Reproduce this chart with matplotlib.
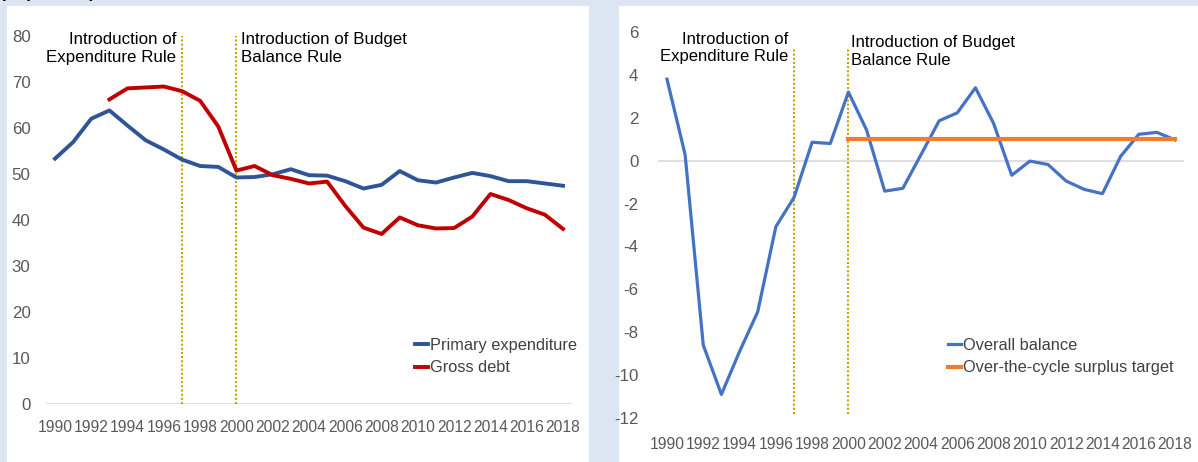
import numpy as np
import matplotlib
matplotlib.use("Agg")
import matplotlib.pyplot as plt
from matplotlib import font_manager
from matplotlib.patches import Rectangle

years = list(range(1990, 2019))
primary_exp = [53.3, 56.9, 62.0, 63.8, 60.5, 57.3, 55.3, 53.1, 51.7, 51.5,
               49.2, 49.3, 49.9, 51.0, 49.7, 49.6, 48.4, 46.8, 47.6, 50.6,
               48.6, 48.1, 49.2, 50.2, 49.5, 48.4, 48.4, 47.9, 47.4]
gross_debt = [np.nan, np.nan, np.nan, 66.2, 68.6, 68.8, 69.0, 68.0, 65.9, 60.3,
              50.7, 51.7, 49.7, 48.9, 47.9, 48.3, 43.0, 38.3, 36.9, 40.5,
              38.8, 38.1, 38.2, 40.7, 45.6, 44.3, 42.5, 41.1, 38.0]
overall_balance = [3.8, 0.28, -8.6, -10.9, -8.9, -7.05, -3.08, -1.72, 0.86, 0.8,
                   3.2, 1.43, -1.42, -1.29, 0.28, 1.86, 2.23, 3.4, 1.74, -0.68,
                   -0.02, -0.18, -0.95, -1.34, -1.54, 0.2, 1.23, 1.32, 0.97]
surplus_target = [np.nan] * 10 + [1.0] * 19
rule_years = [1997, 2000]
rule_labels = ["Introduction of\nExpenditure Rule", "Introduction of Budget\nBalance Rule"]

# font: narrow sans if there is one, else plain Liberation scaled down
names = {f.name for f in font_manager.fontManager.ttflist}
if "Liberation Sans Narrow" in names:
    fam, k = "Liberation Sans Narrow", 1.0
else:
    fam, k = "Liberation Sans", 0.84
plt.rcParams["font.family"] = [fam, "DejaVu Sans"]
plt.rcParams["axes.unicode_minus"] = False

W, H = 1198, 462
fig = plt.figure(figsize=(W / 100, H / 100), dpi=100, facecolor="#dce6f2")

def px(x0, y0, x1, y1):
    # pixel box (top-left origin) -> figure fraction rect
    return [x0 / W, 1 - y1 / H, (x1 - x0) / W, (y1 - y0) / H]

# white panels, behind the axes
for x0, x1 in [(7, 589), (619, 1198)]:
    r = px(x0, 6, x1, H)
    fig.patches.append(Rectangle((r[0], r[1]), r[2], r[3], transform=fig.transFigure,
                                 facecolor="white", edgecolor="none", zorder=-5))

# subtitle that sits mostly above the top edge, as in the source
fig.text(0.0, 1 + 2.5 / H, "(In percent)", fontsize=15 * k, fontweight="bold",
         va="baseline", ha="left", color="black", zorder=-4)

x = np.arange(len(years))
tick_pos = x[::2]
tick_lab = [str(y) for y in years[::2]]
grey = "#595959"
gold = "#c9a400"


def style(ax, ylim, yticks, xpad, ypad):
    ax.set_facecolor("none")
    for s in ax.spines.values():
        s.set_visible(False)
    ax.set_xlim(-0.5, len(years) - 0.5)
    ax.set_ylim(*ylim)
    ax.set_yticks(yticks)
    ax.set_xticks(tick_pos)
    ax.set_xticklabels(tick_lab)
    ax.tick_params(length=0, colors=grey)
    ax.tick_params(axis="x", pad=xpad, labelsize=13.4 * k)
    ax.tick_params(axis="y", pad=ypad, labelsize=14.5 * k)
    ax.axhline(0, color="#d9d9d9", lw=1.2, zorder=1)


# left panel
ax1 = fig.add_axes(px(45.9, 36, 572.1, 403.5))
style(ax1, (0, 80), range(0, 81, 10), 12, 11)
ax1.plot(x, primary_exp, color="#2f5597", lw=2.8, label="Primary expenditure",
         solid_joinstyle="round", zorder=3)
ax1.plot(x, gross_debt, color="#c00000", lw=2.8, label="Gross debt",
         solid_joinstyle="round", zorder=3)
for yr in rule_years:
    ax1.vlines(yr - years[0], 0, 80, colors=gold, linestyles=(0, (1, 1)), lw=1.5, zorder=2)
ax1.text(rule_years[0] - years[0] - 0.3, 80.9, rule_labels[0], ha="right", va="top",
         fontsize=14.5 * k, linespacing=1.25)
ax1.text(rule_years[1] - years[0] + 0.25, 80.9, rule_labels[1], ha="left", va="top",
         fontsize=14.5 * k, linespacing=1.25)
ax1.legend(loc="upper left", bbox_to_anchor=(415 / W, 1 - 338 / H),
           bbox_transform=fig.transFigure, frameon=False, fontsize=14 * k,
           handlelength=0.8, handletextpad=0.1, labelspacing=0.45,
           borderpad=0, borderaxespad=0, labelcolor="#404040")

# right panel
ax2 = fig.add_axes(px(657.9, 32, 1184.1, 418))
style(ax2, (-12, 6), range(-12, 7, 2), 14, 14)
ax2.plot(x, overall_balance, color="#4472c4", lw=2.3, label="Overall balance",
         solid_joinstyle="round", zorder=3)
ax2.plot(x, surplus_target, color="#ed7d31", lw=3, label="Over-the-cycle surplus target",
         zorder=3)
for yr in rule_years:
    ax2.vlines(yr - years[0], -11.8, 5.2, colors=gold, linestyles=(0, (1, 1)), lw=1.5, zorder=2)
ax2.text(rule_years[0] - years[0] - 0.3, 6.0, rule_labels[0], ha="right", va="top",
         fontsize=14.3 * k, linespacing=1.15)
ax2.text(rule_years[1] - years[0] + 0.15, 5.85, rule_labels[1], ha="left", va="top",
         fontsize=14.3 * k, linespacing=1.25)
ax2.legend(loc="upper left", bbox_to_anchor=(948 / W, 1 - 338 / H),
           bbox_transform=fig.transFigure, frameon=False, fontsize=14 * k,
           handlelength=0.8, handletextpad=0.1, labelspacing=0.45,
           borderpad=0, borderaxespad=0, labelcolor="#404040")

fig.savefig("out.png", dpi=100, facecolor=fig.get_facecolor())
